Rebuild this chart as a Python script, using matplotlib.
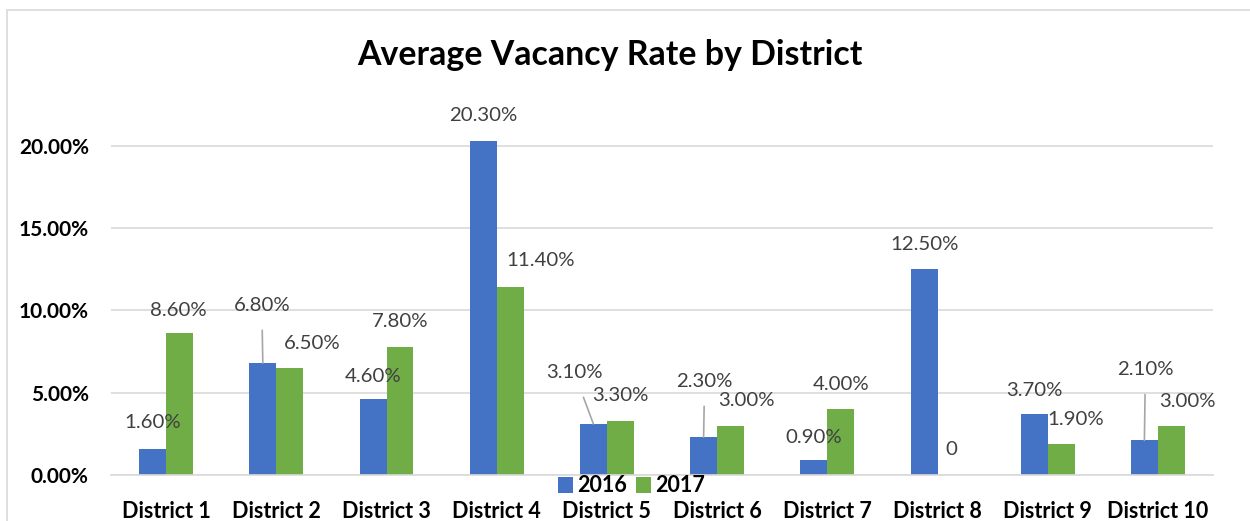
import numpy as np
import matplotlib.pyplot as plt
from matplotlib.patches import Rectangle

plt.rcParams['font.family'] = ['Lato', 'DejaVu Sans']

districts = ["District 1", "District 2", "District 3", "District 4", "District 5",
             "District 6", "District 7", "District 8", "District 9", "District 10"]
rate_2016 = [1.6, 6.8, 4.6, 20.3, 3.1, 2.3, 0.9, 12.5, 3.7, 2.1]
rate_2017 = [8.6, 6.5, 7.8, 11.4, 3.3, 3.0, 4.0, 0.0, 1.9, 3.0]

blue = '#4472C4'
green = '#70AD47'

fig = plt.figure(figsize=(12.5, 5.21), dpi=100)
fig.patches.append(Rectangle((7 / 1250, -0.1), 1.1, 1 - 10 / 521 + 0.1,
                             transform=fig.transFigure, fill=False,
                             edgecolor='#D9D9D9', lw=1.2))
ax = fig.add_axes([0.0888, 0.0883, 0.8816, 0.6948])

x = np.arange(len(districts))
w = 0.245
b1 = ax.bar(x - w / 2, rate_2016, w, color=blue, label='2016')
b2 = ax.bar(x + w / 2, rate_2017, w, color=green, label='2017')

ax.set_xlim(-0.5, len(districts) - 0.5)
ax.set_ylim(0, 22)
ax.set_yticks([0, 5, 10, 15, 20])
ax.set_yticklabels(['%.2f%%' % v for v in [0, 5, 10, 15, 20]],
                   fontsize=15, fontweight='bold')
ax.set_xticks(x)
ax.set_xticklabels(districts, fontsize=15.5, fontweight='bold')
ax.tick_params(length=0)
ax.tick_params(axis='x', pad=19)
ax.tick_params(axis='y', pad=16)
ax.grid(axis='y', color='#D9D9D9', lw=1.2)
ax.set_axisbelow(True)
for s in ['top', 'right', 'left']:
    ax.spines[s].set_visible(False)
ax.spines['bottom'].set_color('#D9D9D9')
ax.spines['bottom'].set_linewidth(1.2)

# label offsets in pixels (dx, dy) from bar top, leader flag
off16 = [(0, 26, 0), (-1, 58, 1), (0, 23, 0), (0, 25, 0), (-19, 51, 1),
         (1, 56, 1), (0, 23, 0), (1, 25, 0), (0, 24, 0), (1, 71, 1)]
off17 = [(-1, 23, 0), (22, 25, 0), (0, 25, 0), (30, 27, 0), (0, 25, 0),
         (16, 25, 0), (0, 25, 0), (0, 25, 0), (14, 24, 0), (16, 24, 0)]

def label_bars(bars, vals, offs):
    for b, v, (dx, dy, lead) in zip(bars, vals, offs):
        txt = '0' if v == 0 else '%.2f%%' % v
        xc = b.get_x() + b.get_width() / 2
        ap = None
        if lead:
            ap = dict(arrowstyle='-', color='#A6A6A6', lw=1.2, shrinkA=10, shrinkB=0)
        ax.annotate(txt, (xc, v), xytext=(dx, dy), textcoords='offset pixels',
                    ha='center', va='center', fontsize=14.7, color='#404040',
                    arrowprops=ap, annotation_clip=False)

label_bars(b1, rate_2016, off16)
label_bars(b2, rate_2017, off17)

fig.text(0.488, 1 - 55 / 521, 'Average Vacancy Rate by District', ha='center',
         va='center', fontsize=24.4, fontweight='bold')
fig.legend(handles=[b1, b2], loc='center', bbox_to_anchor=(0.505, 1 - 486 / 521),
           ncol=2, frameon=False, prop={'size': 15.5, 'weight': 'bold'},
           handlelength=0.7, handleheight=0.7, handletextpad=0.2, columnspacing=0.4,
           borderpad=0)

fig.savefig('out.png', dpi=100)
